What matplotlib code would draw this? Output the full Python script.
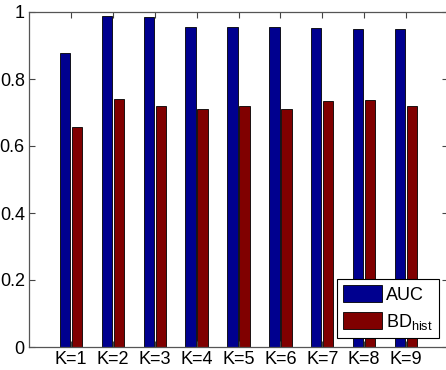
import numpy as np
import matplotlib.pyplot as plt

plt.rcParams['font.family'] = ['Liberation Sans', 'DejaVu Sans']
plt.rcParams['mathtext.fontset'] = 'custom'
plt.rcParams['mathtext.rm'] = 'Liberation Sans'

# scores per K
labels = ['K=1', 'K=2', 'K=3', 'K=4', 'K=5', 'K=6', 'K=7', 'K=8', 'K=9']
auc = [0.879, 0.988, 0.985, 0.954, 0.954, 0.954, 0.951, 0.950, 0.950]
bd_hist = [0.658, 0.741, 0.718, 0.710, 0.719, 0.709, 0.735, 0.737, 0.720]

fig = plt.figure(figsize=(4.46, 3.70), dpi=100)
ax = fig.add_axes([29 / 446, 23 / 370, 419 / 446, 335 / 370])

x = np.arange(1, len(labels) + 1)
w = 0.245
off = 0.143
ax.bar(x - off, auc, w, color='#00008f', edgecolor='black', linewidth=0.6, label='AUC')
ax.bar(x + off, bd_hist, w, color='#800000', edgecolor='black', linewidth=0.6,
       label='BD$_{\\mathrm{hist}}$')

ax.set_xlim(0, 10)
ax.set_ylim(0, 1)
ax.set_xticks(x)
ax.set_xticklabels(labels)
ax.set_yticks([0, 0.2, 0.4, 0.6, 0.8, 1])
ax.set_yticklabels(['0', '0.2', '0.4', '0.6', '0.8', '1'])
ax.tick_params(direction='in', top=True, right=True, length=4, width=0.8,
               color='#444444', labelsize=13, pad=3)
for s in ax.spines.values():
    s.set_color('#555555')
    s.set_linewidth(0.9)

leg = ax.legend(loc='upper left', bbox_to_anchor=(337 / 446, 1 - 279 / 370),
                bbox_transform=fig.transFigure, borderaxespad=0,
                fontsize=13, handlelength=2.15, handleheight=1.05, handletextpad=0.2,
                borderpad=0.35, labelspacing=0.45, fancybox=False,
                framealpha=1, edgecolor='black')
leg.get_frame().set_linewidth(0.8)

fig.savefig('out.png', dpi=100)
